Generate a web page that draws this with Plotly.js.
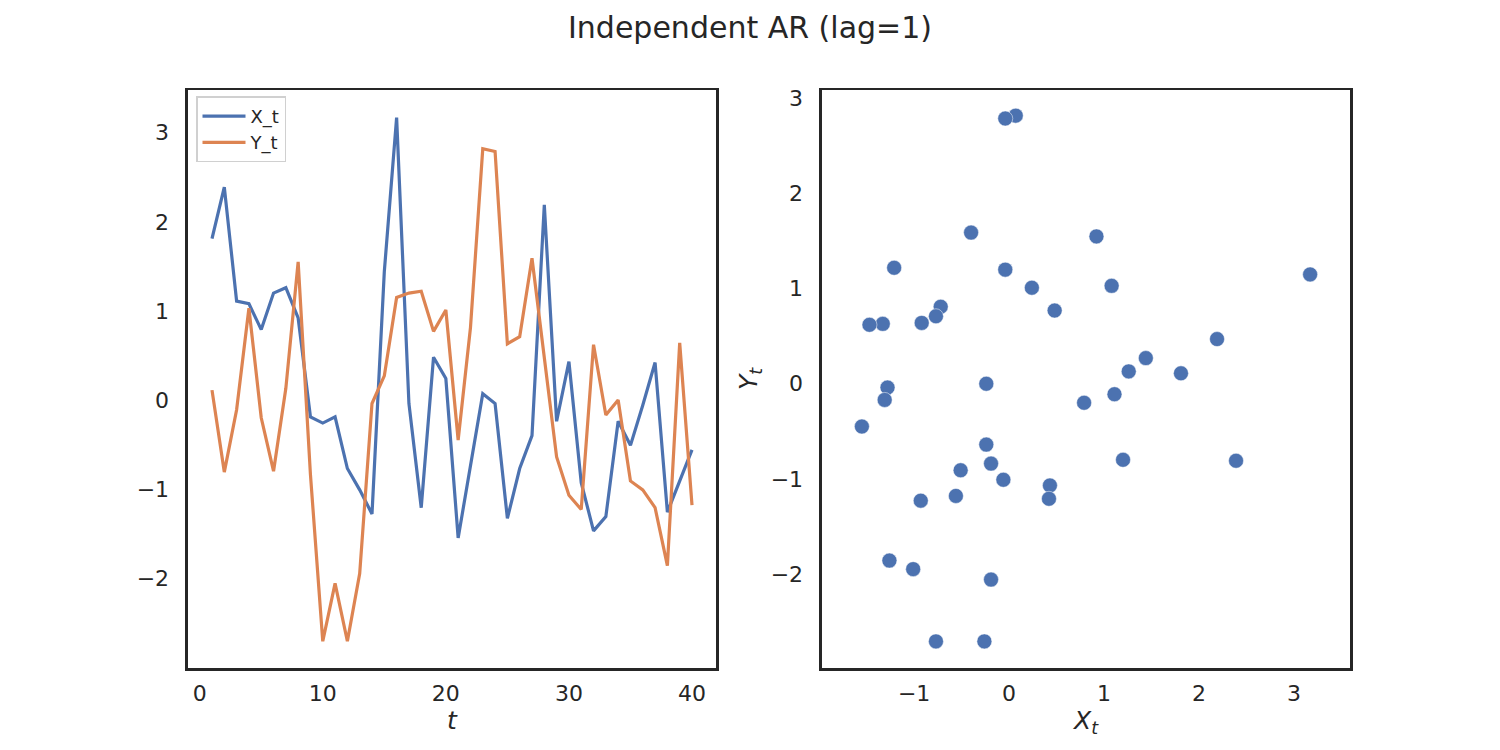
<!DOCTYPE html>
<html>
<head>
<meta charset="utf-8">
<script src="https://cdn.plot.ly/plotly-3.0.1.min.js"></script>
<style>html,body{margin:0;padding:0;background:#fff;}#chart{width:1500px;height:750px;}</style>
</head>
<body>
<div id="chart"></div>
<script>
const t = [1,2,3,4,5,6,7,8,9,10,11,12,13,14,15,16,17,18,19,20,21,22,23,24,25,26,27,28,29,30,31,32,33,34,35,36,37,38,39,40];
const X_t = [1.81,2.39,1.11,1.08,0.79,1.20,1.26,0.92,-0.19,-0.26,-0.19,-0.77,-1.01,-1.28,1.44,3.17,-0.04,-1.21,0.48,0.24,
             -1.55,-0.72,0.07,-0.04,-1.33,-0.77,-0.40,2.19,-0.24,0.43,-0.93,-1.47,-1.31,-0.24,-0.51,-0.06,0.42,-1.26,-0.92,-0.56];
const Y_t = [0.11,-0.81,-0.11,1.03,-0.20,-0.80,0.13,1.55,-0.84,-2.71,-2.06,-2.71,-1.95,-0.04,0.27,1.15,1.20,1.22,0.77,1.01,
             -0.45,0.81,2.82,2.79,0.63,0.71,1.59,0.47,-0.64,-1.07,-1.23,0.62,-0.17,0.00,-0.91,-1.01,-1.21,-1.86,0.64,-1.18];
const seriesNames = ['X_t','Y_t'];
const titleText = 'Independent AR (lag=1)';

const BLUE = '#4C72B0', ORANGE = '#DD8452', INK = '#262626';
const FONT = 'DejaVu Sans, sans-serif';

const data = [
  {x: t, y: X_t, type: 'scatter', mode: 'lines', name: seriesNames[0],
   line: {color: BLUE, width: 3.2}, xaxis: 'x', yaxis: 'y'},
  {x: t, y: Y_t, type: 'scatter', mode: 'lines', name: seriesNames[1],
   line: {color: ORANGE, width: 3.2}, xaxis: 'x', yaxis: 'y'},
  {x: X_t, y: Y_t, type: 'scatter', mode: 'markers', showlegend: false,
   marker: {color: BLUE, size: 15, line: {color: '#ffffff', width: 0.5}}, xaxis: 'x2', yaxis: 'y2'}
];

const axBase = {
  showline: true, mirror: true, linecolor: INK, linewidth: 2.5,
  showgrid: false, zeroline: false,
  ticks: 'outside', tickcolor: 'rgba(0,0,0,0)',
  tickfont: {family: FONT, size: 22, color: INK},
  automargin: false
};
const xBase = Object.assign({}, axBase, {ticklen: 4});
const yBase = Object.assign({}, axBase, {ticklen: 12});

const layout = {
  width: 1500, height: 750,
  paper_bgcolor: '#ffffff', plot_bgcolor: '#ffffff',
  margin: {l: 130, r: 150, t: 90, b: 82},
  font: {family: FONT, color: INK},
  title: {text: titleText, x: 0.5, xref: 'container', y: 1 - 27/750, yref: 'container',
          xanchor: 'center', yanchor: 'middle', font: {family: FONT, size: 30, color: INK}},
  xaxis: Object.assign({}, xBase, {domain: [0.04754, 0.48033], range: [-0.95, 41.95],
          tickvals: [0,10,20,30,40], automargin: true,
          title: {text: '<i>t</i>', standoff: 6, font: {family: FONT, size: 25, color: INK}}}),
  yaxis: Object.assign({}, yBase, {domain: [0, 1], range: [-3.01, 3.48],
          tickvals: [-2,-1,0,1,2,3]}),
  xaxis2: Object.assign({}, xBase, {domain: [0.56721, 1.0], range: [-1.97, 3.59],
          tickvals: [-1,0,1,2,3], anchor: 'y2', automargin: true,
          title: {text: '<i>X</i><sub><i>t</i></sub>', standoff: 6, font: {family: FONT, size: 25, color: INK}}}),
  yaxis2: Object.assign({}, yBase, {domain: [0, 1], range: [-2.99, 3.09],
          tickvals: [-2,-1,0,1,2,3], anchor: 'x2', automargin: true,
          title: {text: '<i>Y</i><sub><i>t</i></sub>', standoff: 6, font: {family: FONT, size: 25, color: INK}}}),
  showlegend: true,
  legend: {x: 0.0541, y: 0.989, xanchor: 'left', yanchor: 'top', xref: 'paper', yref: 'paper',
           bgcolor: '#ffffff', bordercolor: '#d0d0d0', borderwidth: 1.5,
           font: {family: FONT, size: 18, color: INK}, itemwidth: 43}
};

Plotly.newPlot('chart', data, layout, {displayModeBar: false, staticPlot: true});
</script>
</body>
</html>
